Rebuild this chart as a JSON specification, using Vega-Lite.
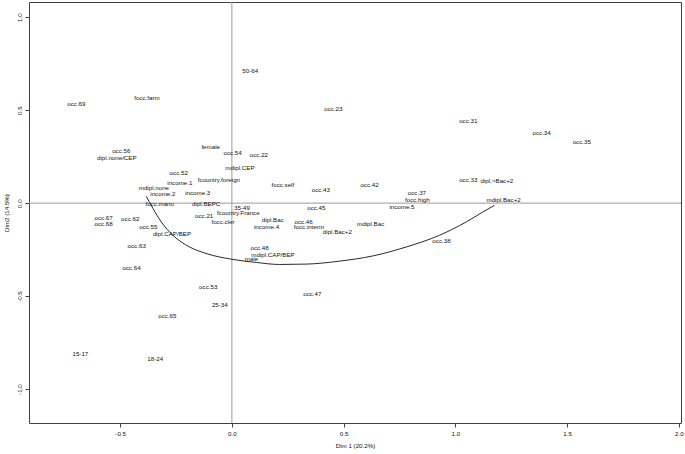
{
  "$schema": "https://vega.github.io/schema/vega-lite/v6.json",
  "width": 652,
  "height": 421,
  "autosize": {"type": "none"},
  "padding": {"left": 29, "top": 2, "right": 4, "bottom": 31},
  "background": "white",
  "config": {
    "view": {"stroke": "#404040", "strokeWidth": 1},
    "axis": {
      "domain": false,
      "grid": false,
      "ticks": true,
      "tickColor": "#404040",
      "tickSize": 4,
      "tickWidth": 1,
      "labelFont": "Liberation Sans",
      "labelFontSize": 6.2,
      "labelColor": "#111",
      "titleFont": "Liberation Sans",
      "titleFontSize": 6.2,
      "titleFontWeight": "normal",
      "titleColor": "#111"
    }
  },
  "datasets": {
    "labels": [
      {"label": "occ.69", "x": -0.696, "y": 0.535},
      {"label": "focc.farm", "x": -0.380, "y": 0.565},
      {"label": "50-64", "x": 0.082, "y": 0.708},
      {"label": "occ.23", "x": 0.454, "y": 0.504},
      {"label": "occ.31", "x": 1.058, "y": 0.440},
      {"label": "occ.34", "x": 1.386, "y": 0.377},
      {"label": "occ.35", "x": 1.566, "y": 0.327},
      {"label": "occ.56", "x": -0.495, "y": 0.280},
      {"label": "dipl.none/CEP", "x": -0.515, "y": 0.245},
      {"label": "female", "x": -0.095, "y": 0.300},
      {"label": "occ.54", "x": 0.003, "y": 0.271},
      {"label": "occ.22", "x": 0.121, "y": 0.259},
      {"label": "mdipl.CEP", "x": 0.036, "y": 0.187},
      {"label": "occ.52", "x": -0.238, "y": 0.162},
      {"label": "income.1", "x": -0.233, "y": 0.110},
      {"label": "fcountry.foreign", "x": -0.058, "y": 0.126},
      {"label": "mdipl.none", "x": -0.349, "y": 0.083},
      {"label": "income.2", "x": -0.309, "y": 0.048},
      {"label": "income.3", "x": -0.153, "y": 0.057},
      {"label": "focc.self", "x": 0.228, "y": 0.098},
      {"label": "occ.43", "x": 0.398, "y": 0.071},
      {"label": "occ.42", "x": 0.616, "y": 0.096},
      {"label": "occ.33", "x": 1.058, "y": 0.123},
      {"label": "dipl.>Bac+2", "x": 1.186, "y": 0.117},
      {"label": "occ.37", "x": 0.828, "y": 0.057},
      {"label": "focc.high", "x": 0.830, "y": 0.019},
      {"label": "mdipl.Bac+2", "x": 1.216, "y": 0.015},
      {"label": "income.5", "x": 0.761, "y": -0.021},
      {"label": "focc.manu", "x": -0.323, "y": -0.003},
      {"label": "dipl.BEPC", "x": -0.115, "y": -0.003},
      {"label": "35-49", "x": 0.045, "y": -0.024},
      {"label": "occ.45", "x": 0.378, "y": -0.026},
      {"label": "occ.67", "x": -0.574, "y": -0.081},
      {"label": "occ.68", "x": -0.574, "y": -0.110},
      {"label": "occ.62", "x": -0.455, "y": -0.085},
      {"label": "occ.21", "x": -0.124, "y": -0.069},
      {"label": "fcountry.France", "x": 0.029, "y": -0.055},
      {"label": "focc.cler", "x": -0.040, "y": -0.101},
      {"label": "dipl.Bac", "x": 0.183, "y": -0.092},
      {"label": "income.4", "x": 0.155, "y": -0.128},
      {"label": "occ.46", "x": 0.321, "y": -0.099},
      {"label": "focc.interm", "x": 0.345, "y": -0.131},
      {"label": "dipl.Bac+2", "x": 0.472, "y": -0.157},
      {"label": "mdipl.Bac", "x": 0.621, "y": -0.110},
      {"label": "occ.55", "x": -0.374, "y": -0.131},
      {"label": "dipl.CAP/BEP", "x": -0.268, "y": -0.164},
      {"label": "occ.38", "x": 0.938, "y": -0.205},
      {"label": "occ.63", "x": -0.426, "y": -0.232},
      {"label": "occ.48", "x": 0.124, "y": -0.244},
      {"label": "mdipl.CAP/BEP", "x": 0.184, "y": -0.277},
      {"label": "male", "x": 0.088, "y": -0.303},
      {"label": "occ.64", "x": -0.449, "y": -0.350},
      {"label": "occ.53", "x": -0.106, "y": -0.450},
      {"label": "occ.47", "x": 0.360, "y": -0.488},
      {"label": "25-34", "x": -0.054, "y": -0.549},
      {"label": "occ.65", "x": -0.289, "y": -0.606},
      {"label": "15-17", "x": -0.678, "y": -0.810},
      {"label": "18-24", "x": -0.343, "y": -0.839}
    ],
    "curve": [
      {"i": 1, "x": -0.383, "y": 0.037},
      {"i": 2, "x": -0.353, "y": -0.029},
      {"i": 3, "x": -0.316, "y": -0.101},
      {"i": 4, "x": -0.264, "y": -0.173},
      {"i": 5, "x": -0.189, "y": -0.236},
      {"i": 6, "x": -0.115, "y": -0.271},
      {"i": 7, "x": 0.000, "y": -0.302},
      {"i": 8, "x": 0.109, "y": -0.319},
      {"i": 9, "x": 0.213, "y": -0.330},
      {"i": 10, "x": 0.333, "y": -0.328},
      {"i": 11, "x": 0.482, "y": -0.312},
      {"i": 12, "x": 0.631, "y": -0.284},
      {"i": 13, "x": 0.780, "y": -0.236},
      {"i": 14, "x": 0.929, "y": -0.173},
      {"i": 15, "x": 1.049, "y": -0.101},
      {"i": 16, "x": 1.123, "y": -0.048},
      {"i": 17, "x": 1.175, "y": -0.012}
    ],
    "one": [{"z": 0}]
  },
  "layer": [
    {
      "data": {"name": "one"},
      "mark": {"type": "rule", "color": "#9a9a9a", "strokeWidth": 1},
      "encoding": {
        "x": {"datum": 0, "type": "quantitative",
          "scale": {"domain": [-0.908, 2.010], "nice": false, "zero": false},
          "axis": {"values": [-0.5, 0, 0.5, 1, 1.5, 2], "labelExpr": "datum.value < 0 ? '-' + format(-datum.value, '.1f') : format(datum.value, '.1f')", "labelPadding": 3, "title": "Dim 1 (20.2%)", "titlePadding": 6}}
      }
    },
    {
      "data": {"name": "one"},
      "mark": {"type": "rule", "color": "#9a9a9a", "strokeWidth": 1},
      "encoding": {
        "y": {"datum": 0, "type": "quantitative",
          "scale": {"domain": [-1.1826, 1.0817], "nice": false, "zero": false},
          "axis": {"values": [-1, -0.5, 0, 0.5, 1], "labelExpr": "datum.value < 0 ? '-' + format(-datum.value, '.1f') : format(datum.value, '.1f')", "labelAngle": -90, "labelAlign": "center", "labelBaseline": "bottom", "labelPadding": 2.5, "title": "Dim2 (14.5%)", "titlePadding": 7}}
      }
    },
    {
      "data": {"name": "curve"},
      "mark": {"type": "line", "color": "#111", "strokeWidth": 0.9, "interpolate": "monotone"},
      "encoding": {
        "x": {"field": "x", "type": "quantitative", "scale": {"domain": [-0.908, 2.010], "nice": false, "zero": false}, "title": "Dim 1 (20.2%)"},
        "y": {"field": "y", "type": "quantitative", "scale": {"domain": [-1.1826, 1.0817], "nice": false, "zero": false}, "title": "Dim2 (14.5%)"},
        "order": {"field": "i", "type": "quantitative"}
      }
    },
    {
      "data": {"name": "labels"},
      "mark": {"type": "text", "font": "Liberation Sans", "fontSize": 6.2, "color": "#111", "align": "center", "baseline": "middle"},
      "encoding": {
        "x": {"field": "x", "type": "quantitative", "scale": {"domain": [-0.908, 2.010], "nice": false, "zero": false}, "title": "Dim 1 (20.2%)"},
        "y": {"field": "y", "type": "quantitative", "scale": {"domain": [-1.1826, 1.0817], "nice": false, "zero": false}, "title": "Dim2 (14.5%)"},
        "text": {"field": "label"}
      }
    }
  ]
}
